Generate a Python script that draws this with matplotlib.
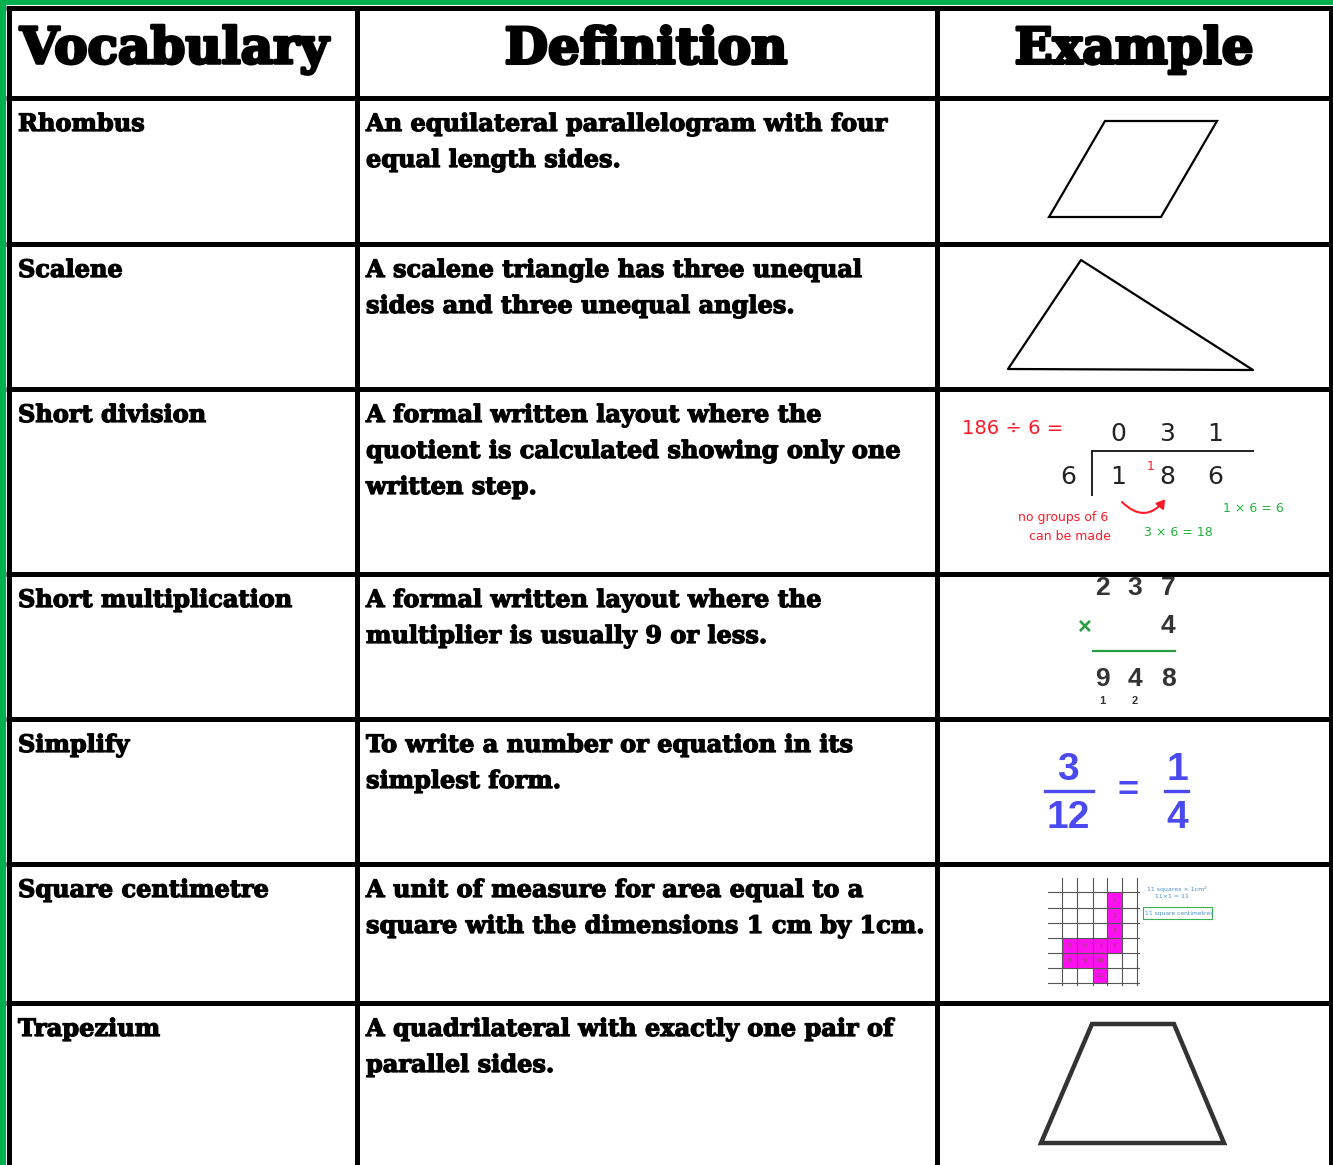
import matplotlib.pyplot as plt
import matplotlib.patheffects as pe
from matplotlib.patches import Polygon, Rectangle, FancyArrowPatch

# Table content
headers = ["Vocabulary", "Definition", "Example"]
terms = ["Rhombus", "Scalene", "Short division", "Short multiplication",
         "Simplify", "Square centimetre", "Trapezium"]
definitions = [
    ["An equilateral parallelogram with four", "equal length sides."],
    ["A scalene triangle has three unequal", "sides and three unequal angles."],
    ["A formal written layout where the", "quotient is calculated showing only one", "written step."],
    ["A formal written layout where the", "multiplier is usually 9 or less."],
    ["To write a number or equation in its", "simplest form."],
    ["A unit of measure for area equal to a", "square with the dimensions 1 cm by 1cm."],
    ["A quadrilateral with exactly one pair of", "parallel sides."],
]

# Table grid (pixel space)
row_edges = [8, 98, 244, 389, 574, 719, 864, 1003]
col_edges = [9, 357, 937, 1331]

# Example drawings
rhombus = [(1105, 121), (1217, 121), (1161, 217), (1049, 217)]
triangle = [(1081, 260), (1253, 370), (1008, 369)]
trapezium = [(1092, 1024), (1174, 1024), (1224, 1143), (1041, 1143)]

div_quotient = ["0", "3", "1"]
div_dividend = ["1", "8", "6"]
div_divisor = "6"
mult_top = ["2", "3", "7"]
mult_result = ["9", "4", "8"]
mult_carry = ["1", "2", ""]
frac_left = ("3", "12")
frac_right = ("1", "4")

grid_x = [1048, 1062, 1077, 1093, 1107, 1122, 1137]
grid_y = [878, 892, 908, 923, 938, 953, 968, 983]
# filled squares (column, row) in grid cells, with their count labels
pink_cells = [(4, 1, "1"), (4, 2, "2"), (4, 3, "3"), (4, 4, "4"),
              (1, 4, "5"), (2, 4, "6"), (3, 4, "7"),
              (1, 5, "8"), (2, 5, "9"), (3, 5, "10"), (3, 6, "11")]

W, H = 1333, 1165
fig = plt.figure(figsize=(W / 100, H / 100), dpi=100)
ax = fig.add_axes([0, 0, 1, 1])
ax.set_xlim(0, W)
ax.set_ylim(H, 0)
ax.axis('off')

green = '#00b050'
ax.add_patch(Rectangle((0, 0), 6, H, color=green, lw=0))
ax.add_patch(Rectangle((0, 0), W, 5, color=green, lw=0))

lw = 3.6
for y in row_edges:
    ax.plot([col_edges[0] - 3, col_edges[-1] + 2], [y, y], color='black', lw=lw, solid_capstyle='butt')
for x in col_edges:
    ax.plot([x, x], [row_edges[0], H], color='black', lw=lw, solid_capstyle='butt')

serif = 'DejaVu Serif'
heavy_head = [pe.withStroke(linewidth=2.2, foreground='black')]
heavy_body = [pe.withStroke(linewidth=0.9, foreground='black')]
header_x = [20, 646, 1134]
header_ha = ['left', 'center', 'center']
for x, ha, h in zip(header_x, header_ha, headers):
    ax.text(x, 50, h, fontsize=36, fontweight='bold', family=serif, va='center', ha=ha,
            path_effects=heavy_head)

for i, term in enumerate(terms):
    y0 = row_edges[i + 1] + 26
    ax.text(18, y0, term, fontsize=17.3, fontweight='bold', family=serif, va='center', ha='left',
            path_effects=heavy_body)
    for j, line in enumerate(definitions[i]):
        ax.text(366, y0 + 36 * j, line, fontsize=17.3, fontweight='bold', family=serif,
                va='center', ha='left', path_effects=heavy_body)

# shapes
ax.add_patch(Polygon(rhombus, closed=True, fill=False, ec='black', lw=1.6))
ax.add_patch(Polygon(triangle, closed=True, fill=False, ec='black', lw=1.6, joinstyle='round'))
ax.add_patch(Polygon(trapezium, closed=True, fill=False, ec='#333333', lw=3.2))

# short division
red = '#ff1a2a'
dgreen = '#1fb33a'
ax.text(1013, 428, "186 ÷ 6 =", color=red, fontsize=14, ha='center', va='center')
div_x = [1118, 1167, 1215]
for x, q, d in zip(div_x, div_quotient, div_dividend):
    ax.text(x, 434, q, fontsize=18, ha='center', va='center', color='#222222')
    ax.text(x, 477, d, fontsize=18, ha='center', va='center', color='#222222')
ax.text(1068, 477, div_divisor, fontsize=18, ha='center', va='center', color='#222222')
ax.text(1151, 466, "1", fontsize=9, ha='center', va='center', color=red)
ax.plot([1092, 1253], [451, 451], color='#222222', lw=1.4)
ax.plot([1092, 1092], [451, 495], color='#222222', lw=1.4)
ax.add_patch(FancyArrowPatch((1120, 500), (1167, 497), connectionstyle="arc3,rad=0.6",
                             arrowstyle='-|>,head_length=5,head_width=3', color=red, lw=1.5))
ax.text(1063, 518, "no groups of 6", color=red, fontsize=9, ha='center', va='center')
ax.text(1070, 536, "can be made", color=red, fontsize=9, ha='center', va='center')
ax.text(1253, 509, "1 × 6 = 6", color=dgreen, fontsize=9, ha='center', va='center')
ax.text(1178, 533, "3 × 6 = 18", color=dgreen, fontsize=9, ha='center', va='center')

# short multiplication
sans = 'Liberation Sans'
mult_x = [1102, 1135, 1168]
for x, t, r, c in zip(mult_x, mult_top, mult_result, mult_carry):
    ax.text(x, 588, t, fontsize=19, fontweight='bold', family=sans, ha='center', va='center', color='#333333')
    ax.text(x, 679, r, fontsize=19, fontweight='bold', family=sans, ha='center', va='center', color='#333333')
    ax.text(x, 701, c, fontsize=8, fontweight='bold', family=sans, ha='center', va='center', color='#333333')
ax.text(1168, 626, "4", fontsize=19, fontweight='bold', family=sans, ha='center', va='center', color='#333333')
ax.text(1085, 627, "×", fontsize=17, fontweight='bold', family=sans, ha='center', va='center', color='#2a9d44')
ax.plot([1093, 1175], [651, 651], color='#2a9d44', lw=1.6)

# simplify
blue = '#4a4af0'
for x, (num, den), bar in [(1068, frac_left, (1045, 1093)), (1177, frac_right, (1165, 1188))]:
    ax.text(x, 770, num, fontsize=28, fontweight='bold', family=sans, ha='center', va='center', color=blue)
    ax.text(x, 818, den, fontsize=28, fontweight='bold', family=sans, ha='center', va='center', color=blue)
    ax.plot(bar, [791, 791], color=blue, lw=2.4)
ax.text(1128, 791, "=", fontsize=26, fontweight='bold', family=sans, ha='center', va='center', color=blue)

# square centimetre grid
for col, row, lab in pink_cells:
    ax.add_patch(Rectangle((grid_x[col], grid_y[row]), grid_x[col + 1] - grid_x[col],
                           grid_y[row + 1] - grid_y[row], color='#ff10f0', lw=0))
    ax.text((grid_x[col] + grid_x[col + 1]) / 2, (grid_y[row] + grid_y[row + 1]) / 2, lab,
            fontsize=4.5, ha='center', va='center', color='#666633')
for x in grid_x[1:]:
    ax.plot([x, x], [grid_y[0], grid_y[-1] + 2], color='#555555', lw=0.8)
for y in grid_y[1:]:
    ax.plot([grid_x[0], grid_x[-1] + 2], [y, y], color='#555555', lw=0.8)
ax.text(1147, 889, "11 squares × 1cm²", fontsize=4.5, color='#4a90d0', ha='left', va='center')
ax.text(1172, 897, "11×1 = 11", fontsize=4.5, color='#4a90d0', ha='center', va='center')
ax.add_patch(Rectangle((1143, 907), 69, 12, fill=False, ec='#3cb050', lw=0.8))
ax.text(1145, 913, "11 square centimetres", fontsize=4.3, color='#4a90d0', ha='left', va='center')

fig.savefig('out.png', dpi=100)
